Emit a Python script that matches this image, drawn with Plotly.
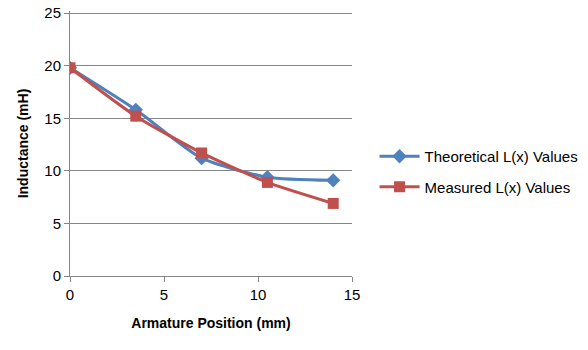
import plotly.graph_objects as go

x_pos = [0, 3.5, 7, 10.5, 14]
theoretical = [19.8, 15.8, 11.2, 9.4, 9.1]
measured = [19.8, 15.2, 11.7, 8.9, 6.9]

font_family = "Liberation Sans, Arial, sans-serif"

fig = go.Figure()
fig.add_trace(go.Scatter(
    x=x_pos, y=theoretical, name="Theoretical L(x) Values", legendgroup="t",
    mode="lines+markers", line=dict(color="#4F81BD", width=3, shape="spline", smoothing=0.6),
    marker=dict(symbol="diamond", size=11, color="#4F81BD")))
fig.add_trace(go.Scatter(
    x=x_pos, y=measured, name="Measured L(x) Values", legendgroup="m",
    mode="lines+markers", line=dict(color="#C0504D", width=3, shape="spline", smoothing=0.6),
    marker=dict(symbol="square", size=11, color="#C0504D")))

fig.update_layout(
    width=588, height=350,
    margin=dict(l=70, r=236, t=11, b=74, autoexpand=False),
    plot_bgcolor="white", paper_bgcolor="white",
    font=dict(family=font_family, size=14, color="#000000"),
    legend=dict(xref="container", yref="container", x=0.637, y=0.51,
                xanchor="left", yanchor="middle",
                font=dict(size=15), tracegroupgap=8, itemwidth=40),
    showlegend=True,
)
fig.update_xaxes(
    range=[0, 15], tickvals=[0, 5, 10, 15], showgrid=False,
    showline=True, linecolor="#868686", linewidth=1,
    ticks="outside", ticklen=5, tickcolor="#868686",
    tickfont=dict(size=15), zeroline=False,
    title=dict(text="<b>Armature Position (mm)</b>", font=dict(size=14), standoff=16),
)
fig.update_yaxes(
    range=[0, 25.2], tickvals=[0, 5, 10, 15, 20, 25],
    showgrid=True, gridcolor="#868686", gridwidth=1,
    showline=True, linecolor="#868686", linewidth=1,
    ticks="outside", ticklen=5, tickcolor="#868686",
    tickfont=dict(size=15), zeroline=False,
    title=dict(text="<b>Inductance (mH)</b>", font=dict(size=14), standoff=12),
)

fig.write_html("out.html")
